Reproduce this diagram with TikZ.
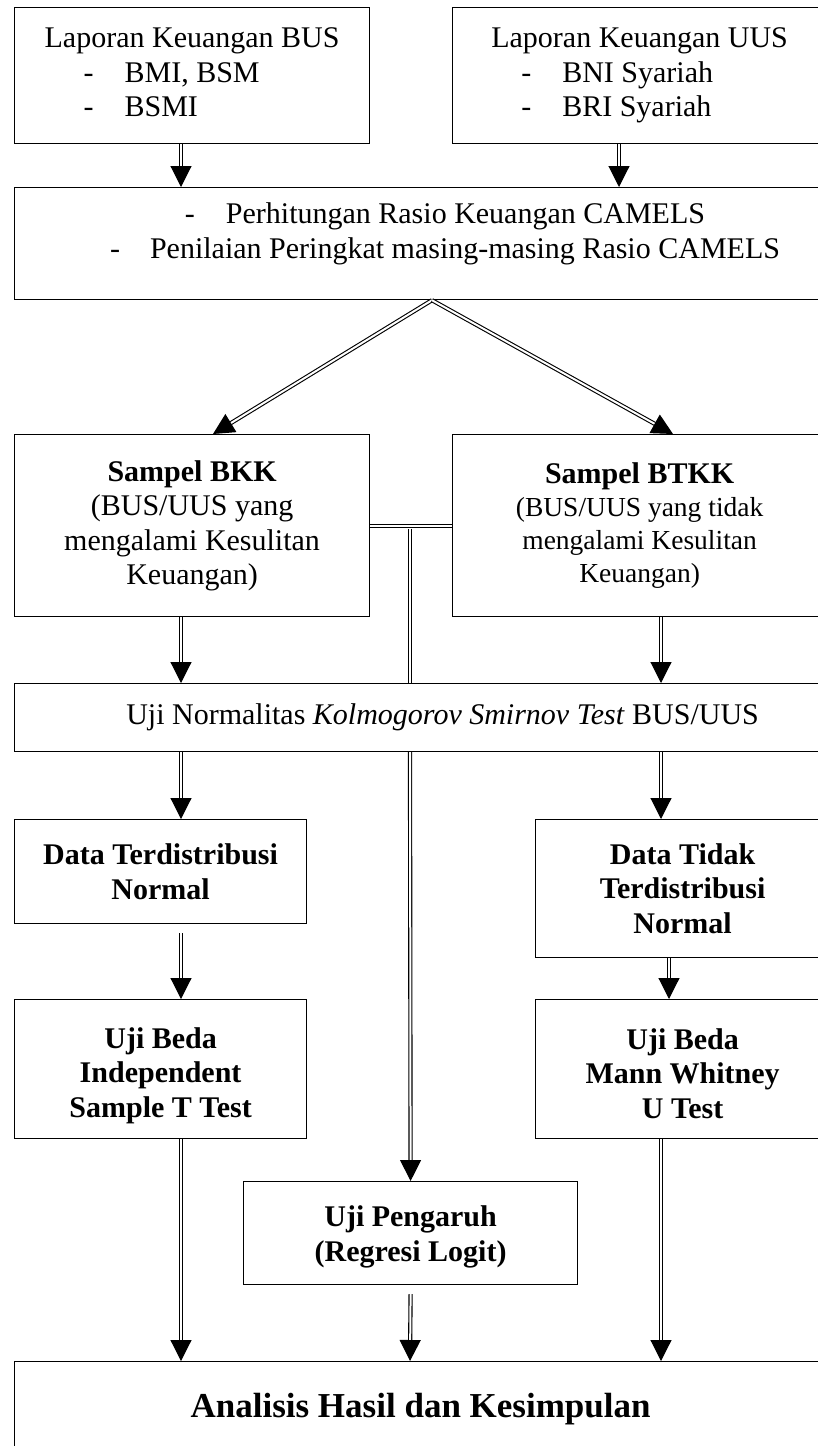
\documentclass[tikz,border=0pt]{standalone}
\usepackage{fontspec}
\setmainfont{Liberation Serif}
\usetikzlibrary{calc}
\usetikzlibrary{arrows.meta}
\newcommand{\fsz}[2]{\fontsize{#1}{#2}\selectfont}
\newcommand{\listdash}[1]{\makebox[#1pt][l]{-}}
\newcommand{\topstrut}[1]{\rule{0pt}{#1pt}}
\tikzset{
	flow box/.style={draw, line width=1.2pt, fill=white, inner sep=0pt, anchor=north west, align=center, font=\fsz{30}{34.5}},
	bold box/.style={flow box, font=\fsz{30}{34.5}\bfseries},
	dbl line/.style={double, double distance=2pt, line width=1.1pt},
	dbl arrow/.style={dbl line, -{Triangle[width=21pt,length=21pt]}},
}
\begin{document}
\begin{tikzpicture}[x=1pt, y=-1pt]
	\useasboundingbox[fill=white] (0,0) rectangle (818,1446);
	\clip (0,0) rectangle (818,1446);
	% columns of the connectors
	\coordinate (colL) at (181,0);
	\coordinate (colU) at (619,0);
	\coordinate (colM) at (410,0);
	\coordinate (colR) at (661,0);
	\coordinate (colS) at (669,0);
	\coordinate (apex) at (432,0);
	\coordinate (tipL) at (213,0);
	\coordinate (tipR) at (673,0);
	\coordinate (join) at (410,526);
	
	\node[flow box, align=left, minimum width=355pt, minimum height=136pt] (bus) at (14,7) {Laporan Keuangan BUS\\ \hspace*{39pt}\listdash{41}BMI, BSM\\ \hspace*{39pt}\listdash{41}BSMI\vphantom{y}};
	\node[flow box, align=left, minimum width=374pt, minimum height=136pt] (uus) at (452,7) {Laporan Keuangan UUS\\ \hspace*{30pt}\listdash{41}BNI Syariah\\ \hspace*{30pt}\listdash{41}BRI Syariah};
	\node[flow box, minimum width=862pt, minimum height=112pt] (camels) at (14,187) {};
	\node[font=\fsz{30}{34.5}, align=center, inner sep=0pt] (camelstext) at (445,234) {\listdash{41}Perhitungan Rasio Keuangan CAMELS\\ \listdash{40}Penilaian Peringkat masing-masing Rasio CAMELS};
	\node[flow box, minimum width=355pt, minimum height=182pt] (bkk) at (14,434) {\textbf{Sampel BKK}\\(BUS/UUS yang\\mengalami Kesulitan\\Keuangan)};
	\node[flow box, font=\fsz{27.5}{33}, minimum width=374pt, minimum height=182pt] (btkk) at (452,434) {{\fsz{30}{34.5}\bfseries Sampel BTKK}\\(BUS/UUS yang tidak\\mengalami Kesulitan\\Keuangan)};
	\node[flow box, minimum width=856pt, minimum height=68pt] (norm) at (14,683) {Uji Normalitas \textit{Kolmogorov Smirnov Test} BUS/UUS};
	\node[bold box, minimum width=292pt, minimum height=104pt] (normal) at (14,819) {Data Terdistribusi\\Normal};
	\node[bold box, minimum width=294pt, minimum height=138pt] (tidak) at (535,819) {Data Tidak\\Terdistribusi\\Normal};
	\node[bold box, minimum width=292pt, minimum height=139pt] (ttest) at (14,999) {\topstrut{34}Uji Beda\\Independent\\Sample T Test};
	\node[bold box, minimum width=294pt, minimum height=139pt] (mann) at (535,999) {\topstrut{30}Uji Beda\\Mann Whitney\\U Test};
	\node[bold box, minimum width=334pt, minimum height=103pt] (logit) at (243,1181) {\topstrut{28}Uji Pengaruh\\(Regresi Logit)};
	\node[bold box, font=\fsz{35}{40}\bfseries, minimum width=812pt, minimum height=94pt] (hasil) at (14,1361) {Analisis Hasil dan Kesimpulan};
	
	\draw[dbl arrow] (bus.south -| colL) -- (camels.north -| colL);
	\draw[dbl arrow] (uus.south -| colU) -- (camels.north -| colU);
	\draw[dbl arrow] (camels.south -| apex) -- (bkk.north -| tipL);
	\draw[dbl arrow] (camels.south -| apex) -- (btkk.north -| tipR);
	\draw[dbl line] (bkk.east |- join) -- (btkk.west |- join);
	\draw[dbl line] ($(join)+(0,2.5)$) -- (norm.north -| join);
	\draw[dbl arrow] (bkk.south -| colL) -- (norm.north -| colL);
	\draw[dbl arrow] (btkk.south -| colR) -- (norm.north -| colR);
	\draw[dbl arrow] (norm.south -| colL) -- (normal.north -| colL);
	\draw[dbl arrow] (norm.south -| colR) -- (tidak.north -| colR);
	\draw[dbl arrow] (norm.south -| colM) -- (logit.north);
	\draw[dbl arrow] ($(normal.south -| colL)+(0,9)$) -- (ttest.north -| colL);
	\draw[dbl arrow] (tidak.south -| colS) -- (mann.north -| colS);
	\draw[dbl arrow] (ttest.south -| colL) -- (hasil.north -| colL);
	\draw[dbl arrow] ($(logit.south)+(0,9)$) -- (hasil.north -| colM);
	\draw[dbl arrow] (mann.south -| colR) -- (hasil.north -| colR);
\end{tikzpicture}
\end{document}
